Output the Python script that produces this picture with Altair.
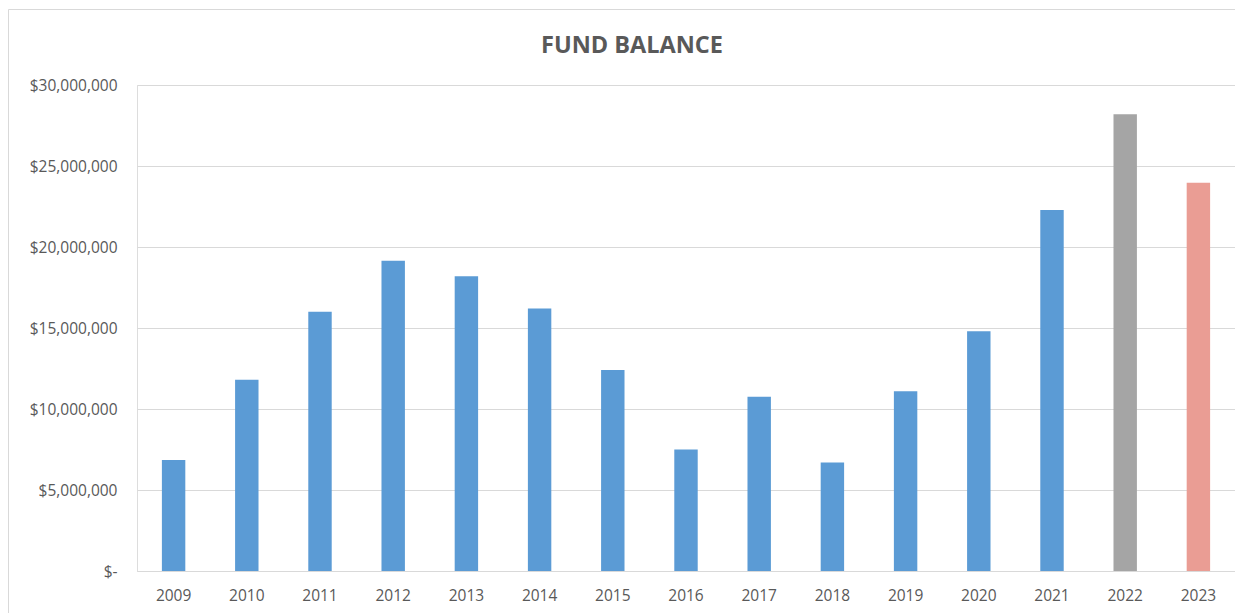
import altair as alt
import pandas as pd

years = ["2009", "2010", "2011", "2012", "2013", "2014", "2015", "2016",
         "2017", "2018", "2019", "2020", "2021", "2022", "2023"]
balances = [6850000, 11800000, 16000000, 19150000, 18200000, 16200000,
            12400000, 7500000, 10750000, 6700000, 11100000, 14800000,
            22280000, 28200000, 23970000]
y_ticks = [0, 5000000, 10000000, 15000000, 20000000, 25000000, 30000000]

BLUE = "#5B9BD5"
GREY = "#A5A5A5"
SALMON = "#EA9D94"
TEXT = "#595959"
GRID = "#D9D9D9"
LABEL_FONT = "Open Sans"
TITLE_FONT = "Open Sans"

df = pd.DataFrame({"Year": years, "Balance": balances})

bars = alt.Chart(df).mark_bar().encode(
    x=alt.X("Year:N", sort=years,
            scale=alt.Scale(paddingInner=0.68, paddingOuter=0.34),
            axis=alt.Axis(title=None, labelAngle=0, ticks=False, domain=True,
                          domainColor=GRID, labelPadding=17, labelFontSize=15.5,
                          labelColor=TEXT, labelFont=LABEL_FONT, grid=False)),
    y=alt.Y("Balance:Q", scale=alt.Scale(domain=[0, 30000000], nice=False),
            axis=alt.Axis(title=None, values=y_ticks, ticks=False, domain=False,
                          gridColor=GRID, labelPadding=20, labelFontSize=15.5,
                          labelColor=TEXT, labelFont=LABEL_FONT,
                          labelExpr="datum.value == 0 ? '$-\u00a0\u00a0' : '$' + format(datum.value, ',')")),
    color=alt.Color("Year:N", scale=alt.Scale(domain=years,
                    range=[BLUE] * 13 + [GREY, SALMON]), legend=None),
)

frame = alt.Chart(pd.DataFrame({"f": [0]})).mark_rect(
    fill=None, stroke=GRID, strokeWidth=1, clip=False
).encode(
    x=alt.value(-128.5), x2=alt.value(1140),
    y=alt.value(-75.5), y2=alt.value(600),
)

chart = alt.layer(frame, bars).properties(
    width=1098, height=486,
    title=alt.TitleParams("FUND BALANCE", fontSize=23.5, fontWeight="bold",
                          color=TEXT, font=TITLE_FONT, anchor="middle", dx=-54,
                          offset=0, dy=48),
    autosize=alt.AutoSizeParams(type="none"),
    padding={"left": 129, "top": 77, "right": 0, "bottom": 42},
).configure_view(stroke=None).configure(background="white")

chart.save("out.html", embed_options={"renderer": "svg", "actions": False})
